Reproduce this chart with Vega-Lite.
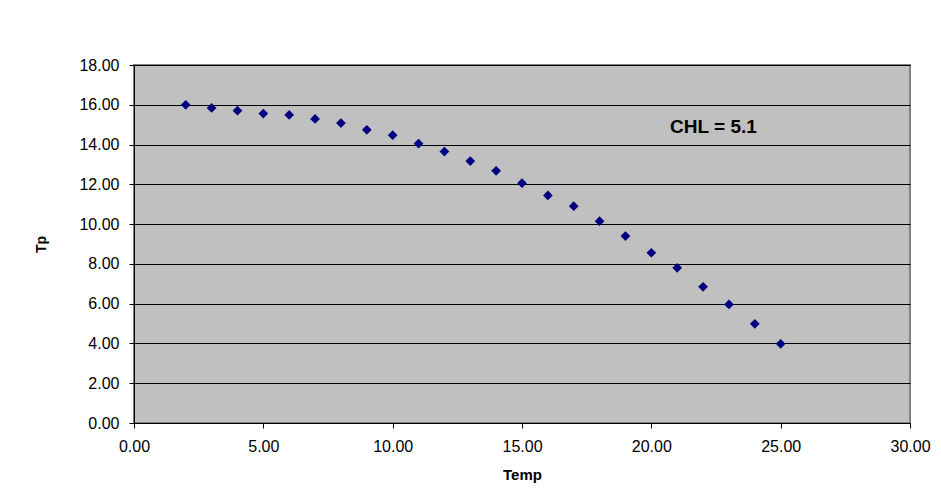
{
  "$schema": "https://vega.github.io/schema/vega-lite/v6.json",
  "width": 776,
  "height": 358,
  "autosize": {"type": "none"},
  "padding": {"left": 134, "top": 65, "right": 31, "bottom": 76},
  "background": "white",
  "config": {
    "font": "Liberation Sans",
    "view": {"fill": "#C0C0C0", "stroke": "#808080", "strokeWidth": 2}
  },
  "datasets": {
    "pts": [
      {"temp": 2, "tp": 16.0},
      {"temp": 3, "tp": 15.84},
      {"temp": 4, "tp": 15.70},
      {"temp": 5, "tp": 15.56},
      {"temp": 6, "tp": 15.49},
      {"temp": 7, "tp": 15.29},
      {"temp": 8, "tp": 15.08},
      {"temp": 9, "tp": 14.74},
      {"temp": 10, "tp": 14.47},
      {"temp": 11, "tp": 14.05},
      {"temp": 12, "tp": 13.65},
      {"temp": 13, "tp": 13.17},
      {"temp": 14, "tp": 12.68},
      {"temp": 15, "tp": 12.06},
      {"temp": 16, "tp": 11.44},
      {"temp": 17, "tp": 10.90},
      {"temp": 18, "tp": 10.15},
      {"temp": 19, "tp": 9.40},
      {"temp": 20, "tp": 8.56},
      {"temp": 21, "tp": 7.80},
      {"temp": 22, "tp": 6.85},
      {"temp": 23, "tp": 5.96},
      {"temp": 24, "tp": 4.99},
      {"temp": 25, "tp": 3.98}
    ],
    "note": [{"temp": 22.4, "tp": 14.9, "label": "CHL = 5.1"}]
  },
  "layer": [
    {
      "data": {"name": "pts"},
      "mark": {"type": "point", "shape": "diamond", "filled": true, "size": 95, "color": "#000080", "opacity": 1},
      "encoding": {
        "x": {
          "field": "temp", "type": "quantitative",
          "scale": {"domain": [0, 30], "nice": false, "zero": false},
          "axis": {
            "title": "Temp", "values": [0, 5, 10, 15, 20, 25, 30], "tickCount": 30, "format": ".2f",
            "labelOverlap": false, "labelFlush": false, "labelBound": false,
            "grid": false, "domain": true, "domainColor": "#000000", "domainWidth": 1,
            "tickColor": "#000000", "tickSize": 5, "labelFontSize": 16, "labelColor": "#000000",
            "labelPadding": 10, "labelFont": "Liberation Sans",
            "titleFontSize": 15, "titleFontWeight": "bold", "titleColor": "#000000",
            "titleFont": "Liberation Sans", "titleY": 51, "titleBaseline": "middle"
          }
        },
        "y": {
          "field": "tp", "type": "quantitative",
          "scale": {"domain": [0, 18], "nice": false},
          "axis": {
            "title": "Tp", "values": [0, 2, 4, 6, 8, 10, 12, 14, 16, 18], "tickCount": 30, "format": ".2f",
            "labelOverlap": false, "labelFlush": false, "labelBound": false,
            "grid": true, "gridColor": "#000000", "gridWidth": 1, "gridOpacity": 1,
            "domain": true, "domainColor": "#000000", "domainWidth": 1,
            "tickColor": "#000000", "tickSize": 5, "labelFontSize": 16, "labelColor": "#000000",
            "labelPadding": 10, "labelFont": "Liberation Sans",
            "titleFontSize": 14, "titleFontWeight": "bold", "titleColor": "#000000",
            "titleFont": "Liberation Sans", "titleX": -93, "titleBaseline": "middle"
          }
        }
      }
    },
    {
      "data": {"name": "note"},
      "mark": {"type": "text", "fontSize": 19, "fontWeight": "bold", "color": "#000000", "font": "Liberation Sans", "align": "center", "baseline": "middle"},
      "encoding": {
        "x": {"field": "temp", "type": "quantitative"},
        "y": {"field": "tp", "type": "quantitative"},
        "text": {"field": "label"}
      }
    }
  ]
}
